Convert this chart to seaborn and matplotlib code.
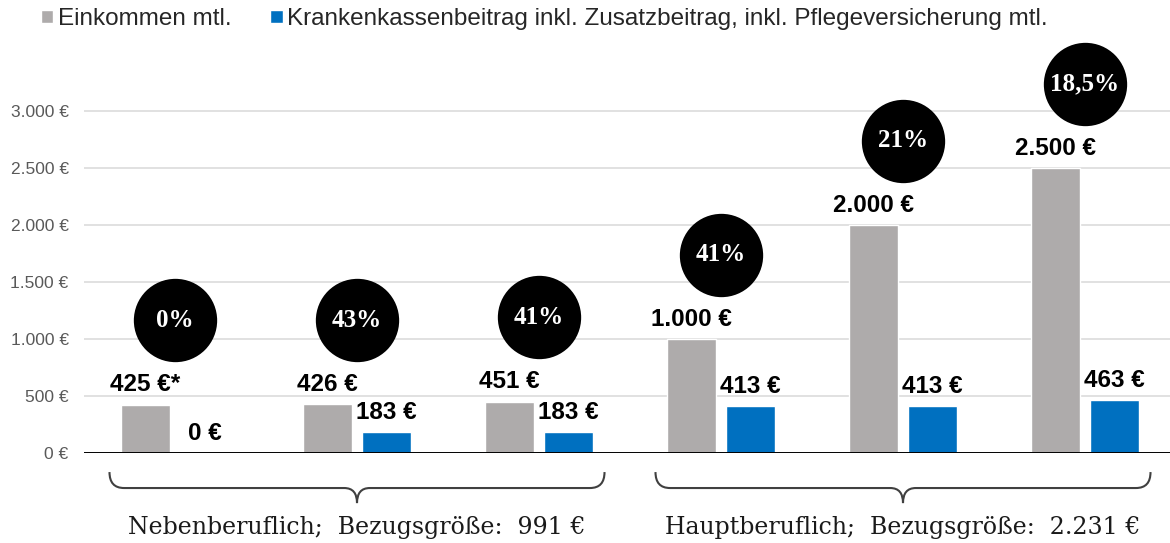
import numpy as np
import pandas as pd
import matplotlib.pyplot as plt
import seaborn as sns
from matplotlib.path import Path
from matplotlib.patches import PathPatch

# chart values
gruppen = ["N1", "N2", "N3", "H1", "H2", "H3"]
einkommen = [425, 426, 451, 1000, 2000, 2500]
beitrag = [0, 183, 183, 413, 413, 463]
anteil = ["0%", "43%", "41%", "41%", "21%", "18,5%"]
einkommen_labels = ["425 €*", "426 €", "451 €", "1.000 €", "2.000 €", "2.500 €"]
beitrag_labels = ["0 €", "183 €", "183 €", "413 €", "413 €", "463 €"]
serien = ["Einkommen mtl.",
          "Krankenkassenbeitrag inkl. Zusatzbeitrag, inkl. Pflegeversicherung mtl."]
yticks = [0, 500, 1000, 1500, 2000, 2500, 3000]
ytick_labels = ["0 €", "500 €", "1.000 €", "1.500 €", "2.000 €", "2.500 €", "3.000 €"]
klammer_texte = ["Nebenberuflich;  Bezugsgröße:  991 €",
                 "Hauptberuflich;  Bezugsgröße:  2.231 €"]
klammer_gruppen = [(0, 2), (3, 5)]

grau = "#AEABAB"
blau = "#0070C0"

df = pd.DataFrame({
    "gruppe": gruppen * 2,
    "betrag": einkommen + beitrag,
    "serie": [serien[0]] * len(gruppen) + [serien[1]] * len(gruppen),
})

sns.set_theme(style="white")
plt.rcParams["font.family"] = ["Liberation Sans", "DejaVu Sans"]

fig = plt.figure(figsize=(11.7, 5.43), dpi=100)
ax = fig.add_axes([0.0718, 0.1657, 0.9282, 0.6929])

sns.barplot(data=df, x="gruppe", y="betrag", hue="serie", palette=[grau, blau],
            width=0.648, gap=0.18, saturation=1, errorbar=None, ax=ax)

# value labels on the bars
for container, labels in zip(ax.containers, [einkommen_labels, beitrag_labels]):
    ax.bar_label(container, labels=labels, padding=6, fontsize=17.5,
                 fontweight="bold", color="black")

# black circles with percentages
pos = np.arange(len(gruppen))
ax.scatter(pos, np.array(einkommen) + 740, s=3600, color="black",
           linewidths=0, clip_on=False, zorder=5)
for xi, yi, t in zip(pos, np.array(einkommen) + 740, anteil):
    ax.text(xi, yi, t, ha="center", va="center", color="white", fontsize=18,
            fontweight="bold", family="Liberation Serif", zorder=6)

# curly braces under the groups
def klammer(ax, x0, x1, ytop=-167, ymid=-307, ybot=-439, r=0.08, r2=0.07):
    xc = (x0 + x1) / 2
    verts = [(x0, ytop), (x0, ymid), (x0 + r, ymid),
             (xc - r2, ymid),
             (xc, ymid), (xc, ybot),
             (xc, ymid), (xc + r2, ymid),
             (x1 - r, ymid),
             (x1, ymid), (x1, ytop)]
    codes = [Path.MOVETO, Path.CURVE3, Path.CURVE3,
             Path.LINETO,
             Path.CURVE3, Path.CURVE3,
             Path.CURVE3, Path.CURVE3,
             Path.LINETO,
             Path.CURVE3, Path.CURVE3]
    ax.add_patch(PathPatch(Path(verts, codes), fill=False, edgecolor="#404040",
                           lw=1.5, clip_on=False))
    return xc

for (g0, g1), txt in zip(klammer_gruppen, klammer_texte):
    xc = klammer(ax, g0 - 0.36, g1 + 0.36)
    ax.text(xc, -650, txt, ha="center", va="center", fontsize=17,
            family="DejaVu Serif", color="#1a1a1a")

# axes styling
ax.set_xlim(-0.5, 5.467)
ax.set_ylim(0, 3300)
ax.set_yticks(yticks, ytick_labels)
ax.tick_params(axis="y", length=0, pad=11, labelsize=12.5, labelcolor="#595959")
ax.tick_params(axis="x", length=0, labelbottom=False)
ax.set_xlabel("")
ax.set_ylabel("")
ax.yaxis.grid(True, color="#D9D9D9", lw=1.1)
ax.set_axisbelow(True)
ax.axhline(0, color="black", lw=1.4, zorder=4)
for s in ax.spines.values():
    s.set_visible(False)

handles, labels = ax.get_legend_handles_labels()
ax.legend(handles, labels, loc="upper left", bbox_to_anchor=(0.035, 0.985),
          bbox_transform=fig.transFigure, ncol=2, frameon=False, fontsize=17.5,
          handlelength=0.5, handleheight=0.5, handletextpad=0.2,
          columnspacing=1.6, borderaxespad=0, borderpad=0, labelcolor="#262626")

fig.savefig("out.png", dpi=100)
